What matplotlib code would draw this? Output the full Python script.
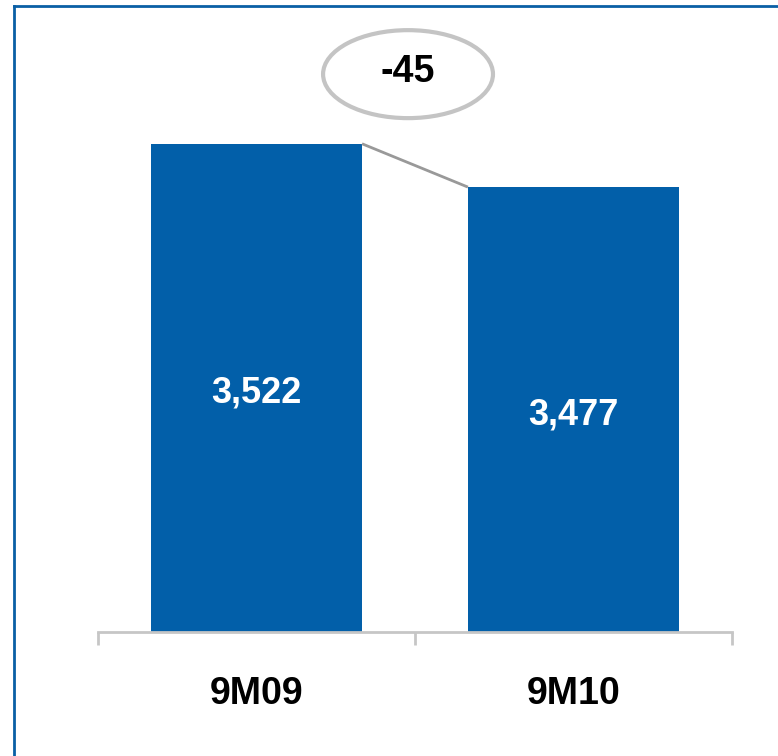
import matplotlib
matplotlib.use("Agg")
import matplotlib.pyplot as plt
import matplotlib.transforms as mtrans
from matplotlib.patches import Ellipse
from matplotlib.lines import Line2D

plt.rcParams['font.family'] = ['Liberation Sans', 'DejaVu Sans']

categories = ["9M09", "9M10"]
values = [3522, 3477]

bar_color = "#025fa9"
frame_color = "#0a5fa5"
axis_gray = "#c6c6c6"

W, H = 778, 756
fig = plt.figure(figsize=(W / 100, H / 100), dpi=100)

# axes in pixel geometry
left, right, bottom, top = 98, 732, 632, 8
ax = fig.add_axes([left / W, 1 - bottom / H, (right - left) / W, (bottom - top) / H])

ymin = 3015
ymax = 3663
x = list(range(len(categories)))
width = 0.666
ax.bar(x, [v - ymin for v in values], bottom=ymin, width=width, color=bar_color, zorder=2)
ax.set_xlim(-0.5, len(categories) - 0.5)
ax.set_ylim(ymin, ymax)

# value labels centered in bars
down = mtrans.ScaledTranslation(0, -5 / 100, fig.dpi_scale_trans)
for xi, v in zip(x, values):
    ax.text(xi, (ymin + v) / 2, f"{v:,}", ha="center", va="center",
            color="white", fontsize=26, fontweight="bold", zorder=3,
            transform=ax.transData + down)

# connector line between bar tops
ax.plot([x[0] + width / 2, x[1] - width / 2], [values[0], values[1]],
        color="#999999", lw=2, solid_capstyle="butt", zorder=3)

# difference bubble
diff = values[1] - values[0]
ell = Ellipse((0.489, 0.894), 0.268, 0.141, transform=ax.transAxes,
              facecolor="white", edgecolor="#c4c4c4", lw=3, clip_on=False, zorder=4)
ax.add_patch(ell)
ax.text(0.489, 0.897, f"{diff:,}", transform=ax.transAxes, ha="center", va="center",
        fontsize=27, fontweight="bold", color="black", zorder=5)

# axes styling
for s in ["top", "right", "left"]:
    ax.spines[s].set_visible(False)
ax.spines["bottom"].set_color(axis_gray)
ax.spines["bottom"].set_linewidth(2)
ax.set_yticks([])
ax.set_xticks(x)
ax.set_xticklabels(categories, fontsize=27, fontweight="bold")
ax.tick_params(axis="x", which="major", length=0, pad=0)
offset = mtrans.ScaledTranslation(0, -62 / 100, fig.dpi_scale_trans)
for lab in ax.get_xticklabels():
    lab.set_va("center")
    lab.set_transform(lab.get_transform() + offset)
ax.set_xticks([-0.5, 0.5, 1.5], minor=True)
ax.tick_params(axis="x", which="minor", length=9, width=2, color=axis_gray, direction="out")

# blue frame (top and left)
fig.add_artist(Line2D([14 / W, 1], [1 - 6 / H, 1 - 6 / H], transform=fig.transFigure,
                      color=frame_color, lw=2))
fig.add_artist(Line2D([14 / W, 14 / W], [0, 1 - 6 / H], transform=fig.transFigure,
                      color=frame_color, lw=2))

fig.savefig("out.png", dpi=100)
